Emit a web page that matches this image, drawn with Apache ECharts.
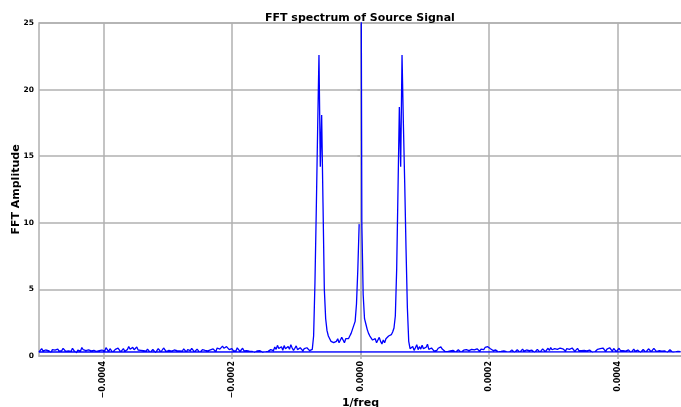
<!DOCTYPE html>
<html>
<head>
<meta charset="utf-8">
<script src="https://cdn.jsdelivr.net/npm/echarts@6/dist/echarts.min.js"></script>
<style>
  html, body { margin: 0; padding: 0; background: #fff; }
  #main { width: 681px; height: 407px; }
</style>
</head>
<body>
<div id="main"></div>
<script>
// FFT bins, in the order the spectrum was plotted (0, +f ..., then -f ... up to -df)
const N = 480;
const fMax = 0.0005;

// k = 0 .. 35 : DC spike, centre lobe (right half) and the right peak
const centreRight = [48, 9.9, 4.6, 2.8, 2.4, 2.0, 1.7, 1.5, 1.4, 1.2, 1.1, 1.3, 1.0, 1.2, 1.4, 1.1,
  0.9, 1.2, 1.0, 1.3, 1.2, 1.5, 1.4, 1.6, 1.8, 2.1, 3.0, 6.5, 12.5, 18.7, 14.2, 22.6, 17.5, 13.0, 8.0, 3.6];

// k = 36 .. 239 : noise floor on the positive side
const rightNoise = [
  1.10,0.55,0.45,0.72,0.42,0.62,0.85,0.48,0.70,0.52,0.80,0.55,0.44,0.66,0.88,0.50,0.40,0.60,0.45,0.37,
  0.33,0.42,0.58,0.45,0.68,0.52,0.41,0.35,0.44,0.33,0.28,0.38,0.31,0.43,0.35,0.29,0.40,0.47,0.36,0.28,
  0.34,0.44,0.31,0.48,0.55,0.40,0.33,0.50,0.58,0.46,0.38,0.54,0.44,0.36,0.52,0.60,0.48,0.64,0.53,0.70,
  0.66,0.55,0.47,0.41,0.35,0.45,0.36,0.30,0.42,0.34,0.27,0.39,0.47,0.33,0.43,0.29,0.37,0.46,0.34,0.27,
  0.36,0.47,0.38,0.29,0.42,0.52,0.36,0.30,0.45,0.33,0.41,0.55,0.44,0.32,0.27,0.39,0.50,0.37,0.29,0.42,
  0.53,0.40,0.33,0.46,0.58,0.41,0.63,0.47,0.36,0.55,0.66,0.50,0.40,0.60,0.70,0.54,0.44,0.37,0.56,0.65,
  0.50,0.39,0.60,0.45,0.35,0.44,0.57,0.41,0.33,0.40,0.31,0.42,0.53,0.39,0.31,0.45,0.37,0.28,0.43,0.32,
  0.38,0.50,0.36,0.55,0.41,0.60,0.46,0.35,0.52,0.39,0.62,0.48,0.37,0.56,0.43,0.33,0.47,0.58,0.41,0.32,
  0.40,0.53,0.37,0.30,0.46,0.36,0.27,0.40,0.51,0.35,0.29,0.44,0.33,0.26,0.38,0.49,0.35,0.28,0.41,0.54,
  0.42,0.32,0.45,0.57,0.43,0.33,0.27,0.40,0.30,0.37,0.52,0.39,0.31,0.26,0.35,0.47,0.34,0.28,0.39,0.30,
  0.27,0.34,0.29,0.32];

// k = -240 .. -37 : noise floor on the negative side
const leftNoise = [
  0.30,0.42,0.55,0.38,0.28,0.45,0.60,0.41,0.33,0.27,0.48,0.62,0.44,0.31,0.52,0.36,0.26,0.40,0.57,0.43,
  0.34,0.27,0.39,0.53,0.35,0.58,0.42,0.30,0.25,0.44,0.56,0.37,0.64,0.47,0.32,0.41,0.28,0.46,0.61,0.38,
  0.29,0.43,0.54,0.34,0.24,0.40,0.52,0.45,0.30,0.36,0.63,0.49,0.33,0.55,0.42,0.28,0.35,0.50,0.39,0.59,
  0.44,0.31,0.40,0.56,0.36,0.27,0.48,0.72,0.51,0.38,0.65,0.47,0.34,0.68,0.45,0.32,0.43,0.57,0.40,0.29,
  0.36,0.52,0.41,0.27,0.33,0.49,0.38,0.25,0.37,0.55,0.44,0.30,0.40,0.60,0.46,0.33,0.28,0.42,0.53,0.37,
  0.29,0.45,0.58,0.41,0.31,0.39,0.27,0.36,0.54,0.43,0.30,0.48,0.34,0.41,0.57,0.44,0.31,0.38,0.51,0.36,
  0.27,0.34,0.47,0.32,0.42,0.55,0.39,0.29,0.46,0.35,0.53,0.41,0.33,0.60,0.45,0.52,0.63,0.74,0.58,0.47,
  0.70,0.59,0.48,0.42,0.56,0.40,0.50,0.37,0.61,0.46,0.34,0.43,0.58,0.39,0.31,0.40,0.28,0.36,0.27,0.34,
  0.30,0.27,0.32,0.38,0.29,0.40,0.34,0.27,0.37,0.31,0.42,0.35,0.30,0.48,0.55,0.40,0.68,0.50,0.80,0.56,
  0.45,0.70,0.43,0.78,0.55,0.40,0.72,0.50,0.85,0.60,0.42,0.58,0.76,0.48,0.40,0.62,0.47,0.38,0.55,0.44,
  0.62,0.48,0.40,0.55];

// k = -36 .. -1 : left peak and the left half of the centre lobe
const leftCentre = [0.5, 1.5, 5.5, 11.0, 17.0, 22.6, 14.2, 18.1, 11.5, 5.0, 2.8, 1.9, 1.5, 1.3, 1.1, 1.2,
  1.0, 0.9, 1.1, 1.3, 1.0, 1.2, 1.4, 1.2, 1.0, 1.3, 1.4, 1.3, 1.5, 1.7, 2.0, 2.3, 2.6, 3.9, 6.5, 9.9];

const xTicks = [-0.0004, -0.0002, 0, 0.0002, 0.0004];
const yTicks = [0, 5, 10, 15, 20, 25];

const posAmp = centreRight.concat(rightNoise);   // k = 0 .. N/2-1
const negAmp = leftNoise.concat(leftCentre);     // k = -N/2 .. -1
const df = 2 * fMax / N;

const spectrum = [];
posAmp.forEach((a, k) => spectrum.push([k * df, a]));
negAmp.forEach((a, i) => spectrum.push([(i - N / 2) * df, a]));

const gridGray = '#b0b0b0';
const font = 'DejaVu Sans';

var myChart = echarts.init(document.getElementById('main'));

var option = {
  animation: false,
  backgroundColor: '#fff',
  title: {
    text: 'FFT spectrum of Source Signal',
    left: 260,
    top: 8,
    textStyle: { fontFamily: font, fontSize: 11, fontWeight: 'bold', color: '#000' }
  },
  grid: {
    left: 39, right: -1, top: 23, bottom: 51,
    outerBoundsMode: 'none',
    containLabel: false,
    show: true, borderColor: gridGray, borderWidth: 1.5
  },
  xAxis: {
    type: 'value',
    min: -fMax,
    max: fMax,
    name: '1/freq',
    nameLocation: 'middle',
    nameGap: 42,
    nameMoveOverlap: false,
    nameTextStyle: { fontFamily: font, fontSize: 11, fontWeight: 'bold', color: '#000' },
    axisLine: { show: true, onZero: false, lineStyle: { color: gridGray, width: 1.5 } },
    axisTick: { show: true, customValues: xTicks, length: 3, lineStyle: { color: gridGray, width: 1.5 } },
    axisLabel: {
      customValues: xTicks,
      rotate: 90,
      margin: 5,
      fontFamily: font, fontSize: 8, fontWeight: 'bold', color: '#000',
      formatter: v => v.toFixed(4).replace('-', '\u2212')
    },
    splitLine: { show: true, lineStyle: { color: gridGray, width: 1.5 } }
  },
  yAxis: {
    type: 'value',
    min: 0,
    max: 25,
    interval: 5,
    name: 'FFT Amplitude',
    nameLocation: 'middle',
    nameGap: 17,
    nameMoveOverlap: false,
    nameTextStyle: { fontFamily: font, fontSize: 11, fontWeight: 'bold', color: '#000' },
    axisLine: { show: true, lineStyle: { color: gridGray, width: 1.5 } },
    axisTick: { show: true, length: 3, lineStyle: { color: gridGray, width: 1.5 } },
    axisLabel: {
      margin: 5,
      fontFamily: font, fontSize: 7.5, fontWeight: 'bold', color: '#000',
      formatter: v => yTicks.includes(v) ? String(v) : ''
    },
    splitLine: { show: true, lineStyle: { color: gridGray, width: 1.5 } }
  },
  series: [{
    type: 'line',
    data: spectrum,
    showSymbol: false,
    clip: true,
    lineStyle: { color: '#0000ff', width: 1.3 },
    emphasis: { disabled: true }
  }]
};

myChart.setOption(option);
</script>
</body>
</html>
